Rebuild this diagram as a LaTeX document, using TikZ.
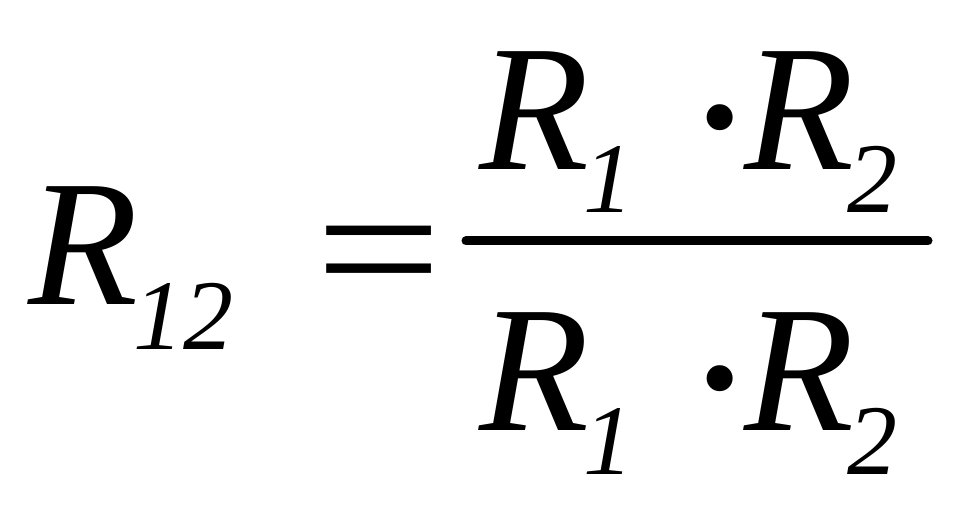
\documentclass[tikz,border=0pt]{standalone}
\usepackage{fontspec}
\setmainfont{Liberation Serif}
\begin{document}
\begin{tikzpicture}[x=1pt,y=1pt,
  big/.style={inner sep=0pt, anchor=base west, font=\fontsize{180}{180}\selectfont\itshape},
  small/.style={inner sep=0pt, anchor=base west, font=\fontsize{100}{100}\selectfont\itshape},
  op/.style={inner sep=0pt, anchor=base west, font=\fontsize{180}{180}\selectfont},
  dotop/.style={inner sep=0pt, anchor=base west, font=\fontsize{220}{220}\selectfont}]
  \useasboundingbox (0,0) rectangle (970,515);
  % left hand side
  \node[big] (R12) at (28,211) {R};
  \node[small] (s12) at (133,166) {12};
  \node[op] (eq) at (315,202) {\scalebox{1.25}[1.05]{=}};
  % fraction bar
  \coordinate (barL) at (466,274);
  \coordinate (barR) at (928,274);
  \draw[line width=9pt, line cap=round] (barL) -- (barR);
  % numerator
  \node[big] (numR1) at (479,345) {R};
  \node[small] (num1) at (583,302) {1};
  \node[dotop] (numdot) at (683,324) {·};
  \node[big] (numR2) at (744,345) {R};
  \node[small] (num2) at (847,302) {2};
  % denominator
  \node[big] (denR1) at (479,85) {R};
  \node[small] (den1) at (583,41) {1};
  \node[dotop] (dendot) at (683,64) {·};
  \node[big] (denR2) at (744,85) {R};
  \node[small] (den2) at (847,41) {2};
\end{tikzpicture}
\end{document}
